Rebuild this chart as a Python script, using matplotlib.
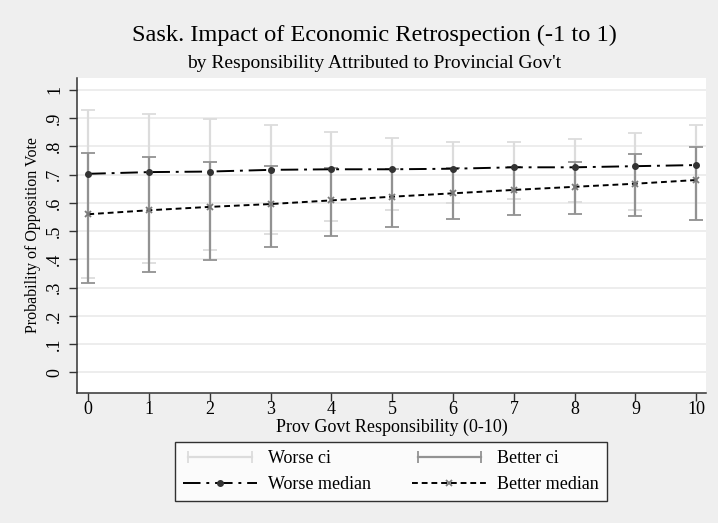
import numpy as np
import matplotlib
matplotlib.use("Agg")
import matplotlib.pyplot as plt
from matplotlib.lines import Line2D
from matplotlib.legend_handler import HandlerLine2D

plt.rcParams["font.family"] = ["Liberation Serif", "DejaVu Serif"]

resp = np.arange(0, 11)

# medians
worse_median = [0.703, 0.709, 0.711, 0.717, 0.719, 0.719, 0.721, 0.726, 0.726, 0.730, 0.734]
better_median = [0.560, 0.574, 0.586, 0.596, 0.609, 0.622, 0.634, 0.646, 0.657, 0.668, 0.681]

# confidence intervals
worse_lo = [0.336, 0.386, 0.434, 0.489, 0.536, 0.576, 0.599, 0.615, 0.605, 0.576, 0.538]
worse_hi = [0.929, 0.914, 0.896, 0.877, 0.851, 0.831, 0.816, 0.816, 0.826, 0.849, 0.874]
better_lo = [0.318, 0.357, 0.398, 0.443, 0.483, 0.516, 0.542, 0.558, 0.561, 0.553, 0.540]
better_hi = [0.776, 0.762, 0.745, 0.731, 0.725, 0.720, 0.722, 0.728, 0.746, 0.773, 0.798]

light = "#dcdcdc"
dark = "#929292"
bg = "#efefef"

fig = plt.figure(figsize=(7.18, 5.23), dpi=100, facecolor=bg)
ax = fig.add_axes([77 / 718, 1 - 393 / 523, 629 / 718, 315 / 523])
ax.set_facecolor("white")


def ci_bars(lo, hi, color):
    lo = np.array(lo)
    hi = np.array(hi)
    mid = (lo + hi) / 2
    ax.errorbar(resp, mid, yerr=[mid - lo, hi - mid], fmt="none",
                ecolor=color, elinewidth=1.6, capsize=5, capthick=1.3, zorder=2)


ci_bars(worse_lo, worse_hi, light)
ci_bars(better_lo, better_hi, dark)

ax.plot(resp, worse_median, color="black", lw=1.4, dashes=[9, 3, 1.5, 3],
        marker="o", ms=4, mfc="#333333", mec="#333333", zorder=4)
ax.plot(resp, better_median, color="black", lw=1.4, dashes=[3, 2],
        marker="x", ms=5, mew=1.3, mec="#7a7a7a", zorder=4)

ax.set_xlim(-0.186, 10.16)
ax.set_ylim(-0.0726, 1.042)
ax.set_xticks(resp)
ax.set_yticks(np.arange(0, 1.01, 0.1))
ax.set_yticklabels(["0", ".1", ".2", ".3", ".4", ".5", ".6", ".7", ".8", ".9", "1"],
                   rotation=90, va="center")
ax.tick_params(axis="both", labelsize=13, length=6, width=1, color="#333333")
ax.tick_params(axis="y", pad=4)
ax.tick_params(axis="x", pad=0)
ax.grid(axis="y", color="#e8e8e8", lw=1.1)
ax.set_axisbelow(True)

for side in ["top", "right"]:
    ax.spines[side].set_visible(False)
for side in ["left", "bottom"]:
    ax.spines[side].set_color("#333333")
    ax.spines[side].set_linewidth(1.1)

ax.set_xlabel("Prov Govt Responsibility (0-10)", fontsize=13, labelpad=0.5)
ax.set_ylabel("Probability of Opposition Vote", fontsize=11.5, labelpad=4)

fig.text(374 / 718, 1 - 35 / 523, "Sask. Impact of Economic Retrospection (-1 to 1)",
         ha="center", va="center", fontsize=17.6)
fig.text(374 / 718, 1 - 64 / 523, "by Responsibility Attributed to Provincial Gov't",
         ha="center", va="center", fontsize=14)

h_wci = Line2D([], [], color=light, lw=1.6, marker="|", ms=9, mew=1.3)
h_bci = Line2D([], [], color=dark, lw=1.6, marker="|", ms=9, mew=1.3)
h_wm = Line2D([], [], color="black", lw=1.4, dashes=[9, 3, 1.5, 3],
              marker="o", ms=4, mfc="#333333", mec="#333333")
h_bm = Line2D([], [], color="black", lw=1.4, dashes=[3, 2],
              marker="x", ms=5, mew=1.3, mec="#7a7a7a")

leg = fig.legend([h_wci, h_wm, h_bci, h_bm],
                 ["Worse ci", "Worse median", "Better ci", "Better median"],
                 ncol=2, loc="upper center", bbox_to_anchor=(391 / 718, 1 - 442 / 523),
                 borderaxespad=0,
                 fontsize=13, frameon=True, fancybox=False, edgecolor="black",
                 handlelength=4.1, handletextpad=0.6, columnspacing=2.3,
                 borderpad=0.45, labelspacing=0.5,
                 handler_map={h_wci: HandlerLine2D(numpoints=2),
                              h_bci: HandlerLine2D(numpoints=2)})
leg.get_frame().set_linewidth(1.0)

fig.savefig("out.png", dpi=100, facecolor=bg)
